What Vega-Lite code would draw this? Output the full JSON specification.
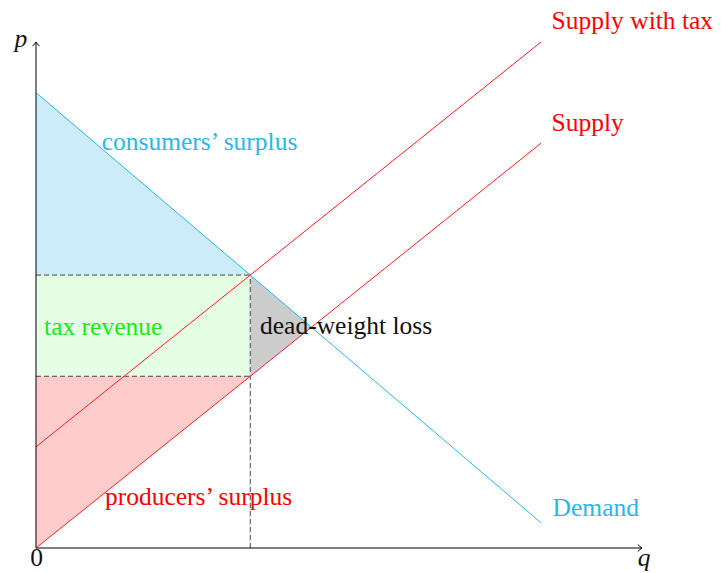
{
  "$schema": "https://vega.github.io/schema/vega-lite/v6.json",
  "width": 606,
  "height": 506,
  "autosize": {"type": "none"},
  "padding": {"left": 36, "top": 42, "right": 79, "bottom": 25},
  "background": "white",
  "config": {"view": {"stroke": null}},
  "datasets": {
    "regions": [
      {"region": "consumers", "q": 0, "top": 9, "bottom": 5.3939},
      {"region": "consumers", "q": 4.2424, "top": 5.3939, "bottom": 5.3939},
      {"region": "tax", "q": 0, "top": 5.3939, "bottom": 3.3939},
      {"region": "tax", "q": 4.2424, "top": 5.3939, "bottom": 3.3939},
      {"region": "producers", "q": 0, "top": 3.3939, "bottom": 0},
      {"region": "producers", "q": 4.2424, "top": 3.3939, "bottom": 3.3939},
      {"region": "dwl", "q": 4.2424, "top": 5.3939, "bottom": 3.3939},
      {"region": "dwl", "q": 5.4545, "top": 4.3636, "bottom": 4.3636}
    ],
    "dashes": [
      {"q": 4.2424, "p": 0, "q2": 4.2424, "p2": 5.3939},
      {"q": 0, "p": 5.3939, "q2": 4.2424, "p2": 5.3939},
      {"q": 0, "p": 3.3939, "q2": 4.2424, "p2": 3.3939}
    ],
    "curves": [
      {"curve": "Demand", "q": 0, "p": 9},
      {"curve": "Demand", "q": 10, "p": 0.5},
      {"curve": "Supply", "q": 0, "p": 0},
      {"curve": "Supply", "q": 10, "p": 8},
      {"curve": "Supply with tax", "q": 0, "p": 2},
      {"curve": "Supply with tax", "q": 10, "p": 10}
    ],
    "axes": [
      {"q": 0, "p": 0, "q2": 0, "p2": 10},
      {"q": 0, "p": 0, "q2": 12, "p2": 0}
    ],
    "arrows": [
      {"dir": "up", "q": 0, "p": 10},
      {"dir": "right", "q": 12, "p": 0}
    ],
    "labels": [
      {"label": "Supply with tax", "kind": "supply", "q": 10.21, "p": 10.257},
      {"label": "Supply", "kind": "supply", "q": 10.21, "p": 8.241},
      {"label": "Demand", "kind": "demand", "q": 10.23, "p": 0.632},
      {"label": "consumers’ surplus", "kind": "demand", "q": 1.3, "p": 7.866},
      {"label": "tax revenue", "kind": "tax", "q": 0.16, "p": 4.209},
      {"label": "dead-weight loss", "kind": "dwl", "q": 4.436, "p": 4.229},
      {"label": "producers’ surplus", "kind": "supply", "q": 1.366, "p": 0.85}
    ],
    "axislabels": [
      {"label": "p", "q": -0.3, "p": 9.9},
      {"label": "q", "q": 12.04, "p": -0.356}
    ],
    "origin": [
      {"label": "0", "q": 0.01, "p": -0.36}
    ]
  },
  "layer": [
    {
      "data": {"name": "regions"},
      "mark": {"type": "area", "opacity": 1},
      "encoding": {
        "x": {"field": "q", "type": "quantitative", "scale": {"domain": [0, 12], "nice": false, "zero": false}, "axis": null},
        "y": {"field": "top", "type": "quantitative", "stack": null, "scale": {"domain": [0, 10], "nice": false, "zero": false}, "axis": null},
        "y2": {"field": "bottom"},
        "fill": {"field": "region", "type": "nominal", "legend": null,
          "scale": {"domain": ["consumers", "tax", "producers", "dwl"], "range": ["#cdecfa", "#e5ffe5", "#ffcccc", "#cccccc"]}}
      }
    },
    {
      "data": {"name": "dashes"},
      "mark": {"type": "rule", "color": "#444444", "strokeWidth": 1, "strokeDash": [5, 3]},
      "encoding": {
        "x": {"field": "q", "type": "quantitative", "scale": {"domain": [0, 12], "nice": false, "zero": false}, "axis": null},
        "y": {"field": "p", "type": "quantitative", "scale": {"domain": [0, 10], "nice": false, "zero": false}, "axis": null},
        "x2": {"field": "q2"},
        "y2": {"field": "p2"}
      }
    },
    {
      "data": {"name": "curves"},
      "mark": {"type": "line", "strokeWidth": 1},
      "encoding": {
        "x": {"field": "q", "type": "quantitative", "scale": {"domain": [0, 12], "nice": false, "zero": false}, "axis": null},
        "y": {"field": "p", "type": "quantitative", "scale": {"domain": [0, 10], "nice": false, "zero": false}, "axis": null},
        "detail": {"field": "curve", "type": "nominal"},
        "stroke": {"field": "curve", "type": "nominal", "legend": null,
          "scale": {"domain": ["Demand", "Supply", "Supply with tax"], "range": ["#29b6ee", "#ff2020", "#ff2020"]}}
      }
    },
    {
      "data": {"name": "axes"},
      "mark": {"type": "rule", "color": "black", "strokeWidth": 1},
      "encoding": {
        "x": {"field": "q", "type": "quantitative", "scale": {"domain": [0, 12], "nice": false, "zero": false}, "axis": null},
        "y": {"field": "p", "type": "quantitative", "scale": {"domain": [0, 10], "nice": false, "zero": false}, "axis": null},
        "x2": {"field": "q2"},
        "y2": {"field": "p2"}
      }
    },
    {
      "data": {"name": "arrows"},
      "mark": {"type": "point", "filled": false, "color": "black", "strokeWidth": 1, "size": 49, "opacity": 1},
      "encoding": {
        "x": {"field": "q", "type": "quantitative", "scale": {"domain": [0, 12], "nice": false, "zero": false}, "axis": null},
        "y": {"field": "p", "type": "quantitative", "scale": {"domain": [0, 10], "nice": false, "zero": false}, "axis": null},
        "shape": {"field": "dir", "type": "nominal", "legend": null,
          "scale": {"domain": ["up", "right"], "range": ["M-1,1.2Q-0.3,0.5,0,0Q0.3,0.5,1,1.2", "M-1.2,-1Q-0.5,-0.3,0,0Q-0.5,0.3,-1.2,1"]}}
      }
    },
    {
      "data": {"name": "labels"},
      "mark": {"type": "text", "align": "left", "baseline": "alphabetic", "font": "Liberation Serif", "fontSize": 25.5},
      "encoding": {
        "x": {"field": "q", "type": "quantitative", "scale": {"domain": [0, 12], "nice": false, "zero": false}, "axis": null},
        "y": {"field": "p", "type": "quantitative", "scale": {"domain": [0, 10], "nice": false, "zero": false}, "axis": null},
        "text": {"field": "label"},
        "color": {"field": "kind", "type": "nominal", "legend": null,
          "scale": {"domain": ["supply", "demand", "tax", "dwl"], "range": ["#ff0000", "#29b6ee", "#11ee11", "#111111"]}}
      }
    },
    {
      "data": {"name": "axislabels"},
      "mark": {"type": "text", "align": "center", "baseline": "alphabetic", "font": "Liberation Serif", "fontSize": 25.5, "fontStyle": "italic", "color": "#111111"},
      "encoding": {
        "x": {"field": "q", "type": "quantitative", "scale": {"domain": [0, 12], "nice": false, "zero": false}, "axis": null},
        "y": {"field": "p", "type": "quantitative", "scale": {"domain": [0, 10], "nice": false, "zero": false}, "axis": null},
        "text": {"field": "label"}
      }
    },
    {
      "data": {"name": "origin"},
      "mark": {"type": "text", "align": "center", "baseline": "alphabetic", "font": "Liberation Serif", "fontSize": 25.5, "color": "#111111"},
      "encoding": {
        "x": {"field": "q", "type": "quantitative", "scale": {"domain": [0, 12], "nice": false, "zero": false}, "axis": null},
        "y": {"field": "p", "type": "quantitative", "scale": {"domain": [0, 10], "nice": false, "zero": false}, "axis": null},
        "text": {"field": "label"}
      }
    }
  ]
}
